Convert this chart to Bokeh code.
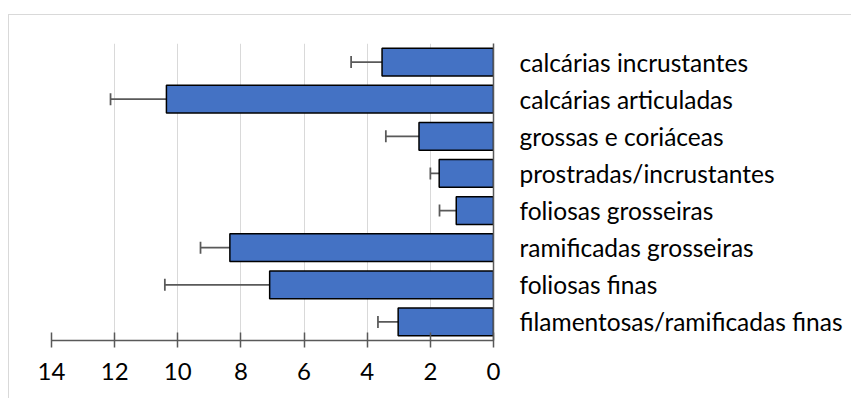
from bokeh.plotting import figure
from bokeh.models import Range1d, FixedTicker, LinearAxis, ColumnDataSource, Whisker, TeeHead
from bokeh.embed import file_html
from bokeh.resources import INLINE

# Morpho-functional groups of algae (top to bottom) with mean cover and error
groups = [
    "calcárias incrustantes",
    "calcárias articuladas",
    "grossas e coriáceas",
    "prostradas/incrustantes",
    "foliosas grosseiras",
    "ramificadas grosseiras",
    "foliosas finas",
    "filamentosas/ramificadas finas",
]
means = [3.53, 10.36, 2.36, 1.72, 1.18, 8.35, 7.09, 3.02]
errors = [0.98, 1.77, 1.05, 0.28, 0.53, 0.93, 3.32, 0.64]
x_ticks = [0, 2, 4, 6, 8, 10, 12, 14]

FONT = "Lato"
pos = list(range(len(groups)))
src = ColumnDataSource(dict(
    y=pos,
    mean=means,
    err_end=[m + e for m, e in zip(means, errors)],
))

# the chart area sits inside a thin light-grey frame (top and left edges)
p = figure(width=843, height=384, output_backend="svg", toolbar_location=None,
           x_range=Range1d(14, 0), y_range=Range1d(len(groups) - 0.5, -0.5),
           min_border_left=42, min_border_right=359,
           min_border_top=28, min_border_bottom=59,
           x_axis_location=None, y_axis_location=None,
           styles={"margin-left": "8px", "margin-top": "14px",
                   "border-top": "1.5px solid #d9d9d9",
                   "border-left": "1.5px solid #d9d9d9"})
p.outline_line_color = None
p.background_fill_color = "white"
p.border_fill_color = "white"

# vertical gridlines
p.xgrid.ticker = FixedTicker(ticks=x_ticks)
p.xgrid.grid_line_color = "#d9d9d9"
p.xgrid.grid_line_width = 1
p.ygrid.grid_line_color = None

# error bars extending beyond the end of each bar
whisk = Whisker(source=src, base="y", lower="err_end", upper="mean",
                dimension="width", line_color="#595959", line_width=1.75,
                lower_head=TeeHead(size=12, line_color="#595959", line_width=1.75),
                upper_head=None)
p.add_layout(whisk)

p.hbar(y="y", left=0, right="mean", height=0.75, source=src,
       fill_color="#4472C4", line_color="black", line_width=1.5)

# value axis along the bottom, ticks crossing the line
xaxis = LinearAxis(ticker=FixedTicker(ticks=x_ticks))
xaxis.axis_line_color = "#595959"
xaxis.axis_line_width = 1.5
xaxis.major_tick_line_color = "#595959"
xaxis.major_tick_line_width = 1.5
xaxis.major_tick_in = 8
xaxis.major_tick_out = 7
xaxis.minor_tick_line_color = None
xaxis.major_label_standoff = 15
xaxis.major_label_text_font = FONT
xaxis.major_label_text_font_size = "24px"
xaxis.major_label_text_color = "black"
p.add_layout(xaxis, "below")

# category axis on the right, at the zero line
yaxis = LinearAxis(ticker=FixedTicker(ticks=pos),
                   major_label_overrides={i: g for i, g in enumerate(groups)})
yaxis.axis_line_color = "#595959"
yaxis.axis_line_width = 1.5
yaxis.major_tick_line_color = None
yaxis.minor_tick_line_color = None
yaxis.major_tick_in = 0
yaxis.major_tick_out = 0
yaxis.major_label_standoff = 26
yaxis.major_label_text_font = FONT
yaxis.major_label_text_font_size = "24.5px"
yaxis.major_label_text_color = "black"
p.add_layout(yaxis, "right")

open("out.html", "w").write(file_html(p, INLINE))
